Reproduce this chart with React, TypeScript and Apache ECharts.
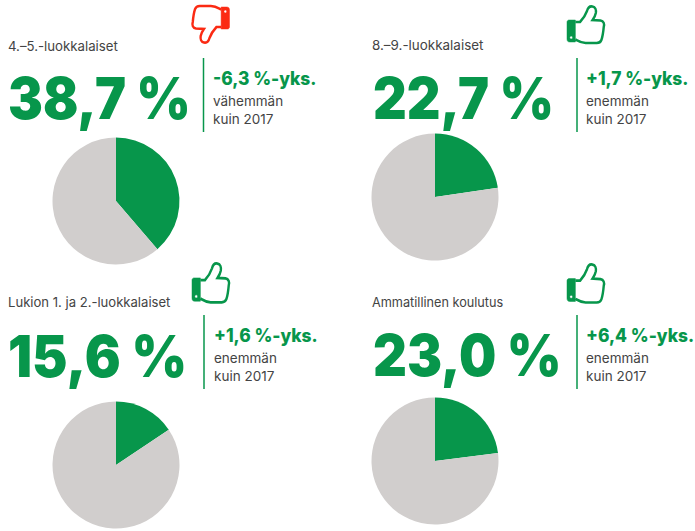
import React, { useEffect, useRef } from "react";
import * as echarts from "echarts";

const groups = ["4.–5.-luokkalaiset", "8.–9.-luokkalaiset", "Lukion 1. ja 2.-luokkalaiset", "Ammatillinen koulutus"];
const shares = [38.7, 22.7, 15.6, 23.0];
const bigLabels = ["38,7 %", "22,7 %", "15,6 %", "23,0 %"];
const changes = ["-6,3 %-yks.", "+1,7 %-yks.", "+1,6 %-yks.", "+6,4 %-yks."];
const words = ["vähemmän", "enemmän", "enemmän", "enemmän"];
const compare = "kuin 2017";
const pieCenters = [[116, 201], [435, 197], [116, 465], [435, 461]];
const labelPos = [[8, 46], [372, 45], [8, 302], [372, 302]];
const labelScale = [0.98, 0.995, 0.97, 0.94];
const bigPos = [[8, 98], [373, 98], [8, 356], [373, 355]];
const bigScale = [0.9, 0.9, 0.92, 0.905];
const dividerX = [203.5, 577, 204, 577];
const dividerY = [58, 58, 315, 315];
const sideX = [213, 586, 214, 586];
const thumbPos = [[229.5, 44], [567, 5], [192, 262], [567, 263]];
const thumbScaleY = [1, 1, 1.06, 1.04];
const thumbDown = [true, false, false, false];

const GREEN = "#07964b";
const GREY = "#d1cecd";
const RED = "#fb2a13";
const TEXT = "#444444";
const FONT = "Inter";

const thumbD =
  "M9 17 L14 17 C17 14 20 10 21.5 6 C22.5 2.5 25 1 27.5 1.5 C30.5 2 31.5 5 31 8 C30.5 10.5 29 13 27.5 15 L36 15.5 C39.5 16 40.5 19 39.5 22 C39 27 38.5 31 37 35 C36 37.5 34.5 38 32 38 L20 38 C15 38 12 36 9 34.5";
const cuffD =
  "M2 15 L9 15 L9 37 L3 37 C1 37 0 36 0 34 L0 17 C0 16 1 15 2 15 Z M4.5 31 A1.5 1.5 0 1 0 4.5 34 A1.5 1.5 0 1 0 4.5 31 Z";
echarts.graphic.registerShape("thumbBody", echarts.graphic.extendPath(thumbD, {}) as any);
echarts.graphic.registerShape("thumbCuff", echarts.graphic.extendPath(cuffD, {}) as any);

export default function App() {
  const ref = useRef<HTMLDivElement>(null);
  useEffect(() => {
    const chart = echarts.init(ref.current!, undefined, { renderer: "svg" });
    const graphic: any[] = [];
    groups.forEach((g, i) => {
      graphic.push({
        type: "text", x: labelPos[i][0], y: labelPos[i][1], scaleX: labelScale[i],
        style: { text: g, font: `400 13.5px ${FONT}`, fill: TEXT, textVerticalAlign: "middle" },
      });
      graphic.push({
        type: "text", x: bigPos[i][0], y: bigPos[i][1], scaleX: bigScale[i],
        style: { text: bigLabels[i], font: `900 58px ${FONT}`, fill: GREEN, textVerticalAlign: "middle" },
      });
      graphic.push({
        type: "line",
        shape: { x1: dividerX[i], y1: dividerY[i], x2: dividerX[i], y2: dividerY[i] + 74 },
        style: { stroke: GREEN, lineWidth: 1.5 },
      });
      graphic.push({
        type: "text", x: sideX[i], y: dividerY[i] + 20.5, scaleX: 0.94,
        style: { text: changes[i], font: `800 18.5px ${FONT}`, fill: GREEN, textVerticalAlign: "middle" },
      });
      graphic.push({
        type: "text", x: sideX[i], y: dividerY[i] + 43,
        style: { text: words[i], font: `400 13.5px ${FONT}`, fill: TEXT, textVerticalAlign: "middle" },
      });
      graphic.push({
        type: "text", x: sideX[i], y: dividerY[i] + 61,
        style: { text: compare, font: `400 13.5px ${FONT}`, fill: TEXT, textVerticalAlign: "middle" },
      });
      const color = thumbDown[i] ? RED : GREEN;
      const s = thumbDown[i] ? -1 : 1;
      const common = { x: thumbPos[i][0], y: thumbPos[i][1], scaleX: s * 0.93, scaleY: s * thumbScaleY[i] };
      graphic.push({ type: "thumbBody", ...common, style: { fill: "#fff", stroke: color, lineWidth: 2.6 } });
      graphic.push({ type: "thumbCuff", ...common, style: { fill: color, stroke: color, lineWidth: 0.5 } });
    });
    chart.setOption({
      animation: false,
      backgroundColor: "#fff",
      graphic,
      series: shares.map((v, i) => ({
        type: "pie",
        center: pieCenters[i],
        radius: [0, 63.5],
        startAngle: 90,
        clockwise: true,
        silent: true,
        label: { show: false },
        labelLine: { show: false },
        data: [
          { value: v, name: groups[i], itemStyle: { color: GREEN } },
          { value: 100 - v, name: "muut", itemStyle: { color: GREY } },
        ],
      })),
    });
    return () => chart.dispose();
  }, []);
  return <div ref={ref} style={{ position: "absolute", left: 0, top: 0, width: 695, height: 531 }} />;
}
